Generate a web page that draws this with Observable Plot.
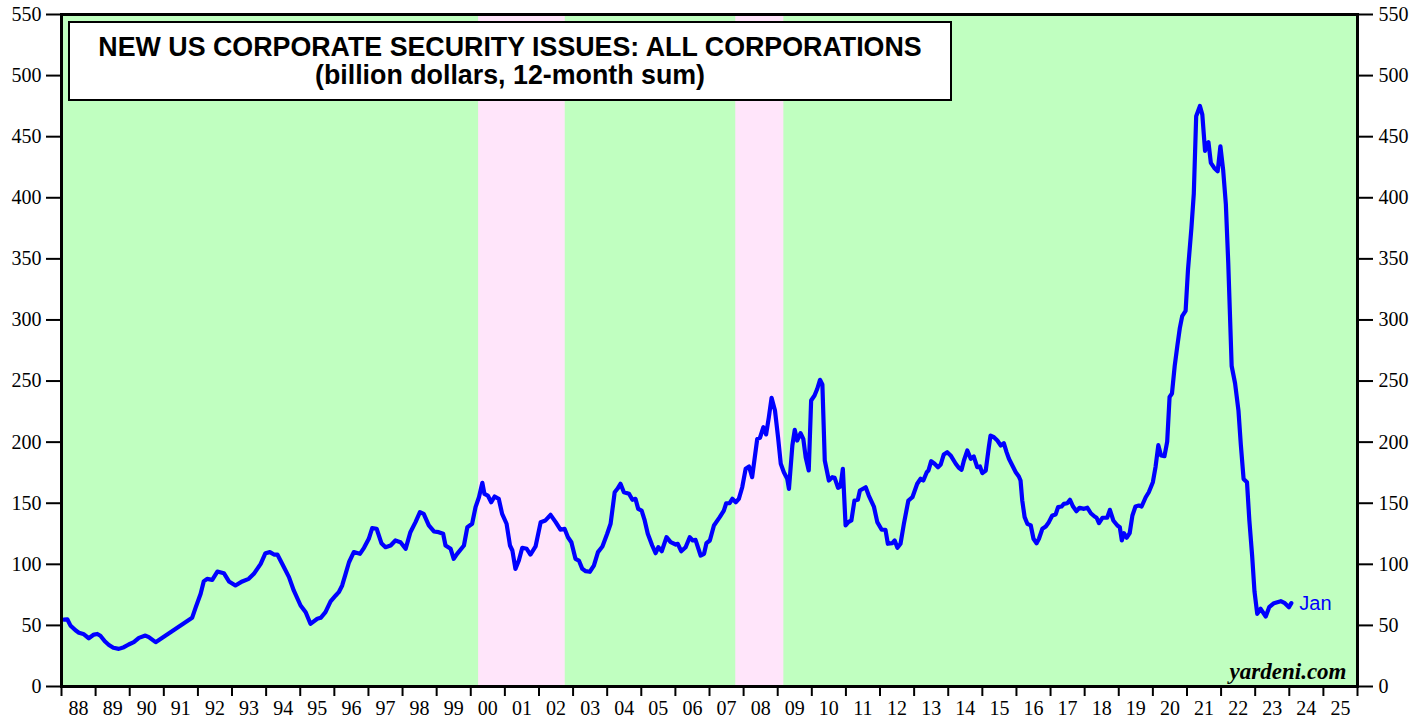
<!DOCTYPE html>
<html>
<head>
<meta charset="utf-8">
<script src="https://cdn.jsdelivr.net/npm/d3@7"></script>
<script src="https://cdn.jsdelivr.net/npm/@observablehq/plot@0.6"></script>
<style>
  html, body { margin: 0; padding: 0; background: white; }
  #wrap { position: relative; width: 1427px; height: 717px; }
  #title {
    position: absolute; left: 68px; top: 21px; width: 884px; height: 80px;
    box-sizing: border-box; border: 2px solid black; background: white;
    font-family: "Liberation Sans", Arial, sans-serif; font-weight: bold;
    font-size: 26.8px; line-height: 28px; text-align: center; padding-top: 10px;
    color: black;
  }
</style>
</head>
<body>
<div id="wrap">
  <div id="chart"></div>
  <div id="title">NEW US CORPORATE SECURITY ISSUES: ALL CORPORATIONS<br>(billion dollars, 12-month sum)</div>
</div>
<script>
// Time (decimal year) and value (billion dollars, 12-month sum)
const years = [
  1988.07,1988.17,1988.26,1988.41,1988.51,1988.64,1988.80,1988.95,1989.05,1989.14,
  1989.27,1989.39,1989.52,1989.68,1989.83,1989.97,1990.12,1990.27,1990.46,1990.56,
  1990.76,1991.83,1991.93,1992.08,1992.17,1992.27,1992.42,1992.57,1992.76,1992.91,
  1993.10,1993.30,1993.49,1993.64,1993.84,1993.98,1994.11,1994.23,1994.33,1994.47,
  1994.67,1994.81,1995.01,1995.16,1995.30,1995.50,1995.60,1995.74,1995.89,
  1996.04,1996.13,1996.23,1996.33,1996.43,1996.57,1996.75,1996.87,1997.01,1997.11,
  1997.24,1997.38,1997.50,1997.65,1997.79,1997.94,1998.09,1998.23,1998.38,1998.51,
  1998.62,1998.77,1998.92,1999.06,1999.19,1999.26,1999.41,1999.50,1999.60,1999.80,
  1999.90,2000.04,2000.14,2000.24,2000.34,2000.40,2000.50,2000.60,2000.70,2000.82,
  2000.92,2001.05,2001.15,2001.22,2001.31,2001.41,2001.51,2001.64,2001.75,2001.90,
  2002.05,2002.19,2002.34,2002.49,2002.63,2002.75,2002.85,2002.95,
  2003.07,2003.17,2003.27,2003.37,2003.49,2003.61,2003.73,2003.86,2004.00,2004.10,
  2004.22,2004.30,2004.39,2004.49,2004.64,2004.74,2004.83,2004.91,2005.01,2005.10,
  2005.19,2005.32,2005.42,2005.50,2005.60,2005.74,2005.86,2006.01,2006.07,2006.17,
  2006.30,2006.42,2006.51,2006.59,2006.74,2006.84,2006.91,2007.01,2007.13,2007.30,
  2007.42,2007.49,2007.59,2007.67,2007.77,2007.86,2007.96,2008.06,2008.16,2008.25,
  2008.40,2008.48,2008.58,2008.66,2008.74,2008.82,2008.92,2009.01,2009.09,2009.18,
  2009.28,2009.33,2009.43,2009.50,2009.57,2009.67,2009.75,2009.82,2009.91,2009.98,
  2010.08,2010.16,2010.24,2010.31,2010.38,2010.50,2010.60,2010.67,2010.77,2010.84,
  2010.91,2010.99,2011.07,2011.16,2011.25,2011.35,2011.41,2011.58,2011.67,2011.82,
  2011.92,2012.05,2012.16,2012.23,2012.36,2012.43,2012.51,2012.60,2012.70,2012.83,
  2012.95,2013.09,2013.19,2013.27,2013.37,2013.42,2013.50,2013.60,2013.70,2013.78,
  2013.87,2013.97,2014.07,2014.22,2014.31,2014.39,2014.46,2014.56,2014.66,2014.75,
  2014.85,2014.93,2015.00,2015.10,2015.19,2015.24,2015.34,2015.44,2015.54,2015.63,
  2015.71,2015.78,2015.88,2015.98,2016.07,2016.12,2016.17,2016.24,2016.32,2016.42,
  2016.50,2016.59,2016.66,2016.76,2016.86,2016.95,2017.05,2017.15,2017.22,2017.32,
  2017.39,2017.49,2017.57,2017.66,2017.76,2017.85,2017.98,2018.08,2018.18,2018.29,
  2018.35,2018.42,2018.52,2018.66,2018.74,2018.84,2018.96,2019.03,2019.09,2019.15,
  2019.23,2019.32,2019.40,2019.49,2019.59,2019.67,2019.79,2019.88,2020.00,2020.08,
  2020.16,2020.24,2020.34,2020.42,2020.49,2020.56,2020.64,2020.72,2020.79,2020.86,
  2020.96,2021.03,2021.13,2021.20,2021.27,2021.38,2021.45,2021.53,2021.58,2021.63,
  2021.70,2021.80,2021.90,2021.98,2022.06,2022.14,2022.21,2022.31,2022.41,2022.51,
  2022.58,2022.66,2022.76,2022.83,2022.91,2022.98,2023.06,2023.16,2023.31,2023.41,
  2023.55,2023.65,2023.75,2023.87,2023.99,2024.06
];
const values = [
  54.8,55,50,46,44,43,39.5,42.5,43,41.5,
  37,34,31.7,30.8,32.2,34.4,36.3,39.8,41.7,40.4,
  36.3,56.2,64.4,75.9,86,88.1,87.3,94.1,92.7,86,
  82.7,86,88.1,92.2,100.4,109.1,110,108,108,100.4,
  89.5,78.6,66.3,60.8,51.3,55.4,56.2,60.8,69.6,
  74.5,77.2,82.7,92.2,101.7,110,108.6,113.5,120.9,129.6,
  129.1,117.3,114,115.4,119.5,118.1,112.7,126.3,134.5,142.7,
  141.3,131.8,126.9,126.3,125,115.4,112.7,104.5,108.6,115.4,
  130.4,133.2,146.8,154.9,166.7,157.7,156.3,150.8,155.5,153.6,
  141.3,133.2,115.4,111.3,96.3,103.1,113.5,112.7,108,114.6,
  134.5,135.9,140.5,134.5,128.3,129.1,122.2,118.1,
  104.5,103.1,96.3,94.4,93.9,99,110,114.6,125,133.2,
  159,161.8,165.9,159,157.7,152.8,153.6,145.4,144,135.9,
  125,115.4,109.1,114,110.7,122.2,118.1,116.2,116.8,110.7,
  114,122.2,119.5,120,107.2,108.6,117.3,119.5,131.8,138.6,
  144,150,150,153.6,150.8,153.6,163.1,178.2,180,171.3,
  202.7,203.6,212.2,206.3,220.4,236.3,225.9,204,182.3,175.4,
  170,161.8,197.3,210,201.3,207.3,202.7,187.7,176.8,234.1,
  238.2,243.7,251,247.2,185,168.6,171.3,170.8,162.6,163.7,
  178.2,131.8,134.5,135.9,152.2,152.8,160.4,163.1,156.3,147.3,
  134.5,128.3,128.3,116.8,117.3,119.5,113.5,116.8,133.2,152.2,
  154.9,165.9,170,168.6,175.4,176.8,184.4,182.3,179.5,181.7,
  189.9,191.8,189.1,182.3,179,177.4,185,193.2,186.4,188.2,
  179.5,180.1,174.6,176.8,195.9,205.4,204,201.3,197.3,199.1,
  191.8,186.4,180.9,175.4,171.9,168.6,152.2,138.6,133.2,131.8,
  120.9,117.3,120.9,129.1,131,134.5,140,140.8,146.8,147.3,
  149.5,150,152.8,147.3,143.5,146.3,145.4,146.3,141.8,139.1,
  138.1,133.7,138.1,138.1,144.6,135.9,131.8,130.4,119.5,125.5,
  121.7,125.5,140,147.3,148.1,147.3,154.9,159,167.2,180,
  197.5,189.1,188.5,200.4,237,239.8,262.3,279.3,293.3,303.2,
  307.4,341.2,375.1,403.3,466.7,475.1,468.1,438.4,444.1,445.5,
  428.6,424.4,421.6,442.1,423,394.8,346.9,262.3,248.2,225.7,
  197.5,169.9,167.1,135.5,107.3,77.7,59.5,63.6,57.3,64.9,
  68.2,69,69.8,68.2,64.9,68.2
];
// S&P 500 bear markets (shaded)
const bearStart = [2000.23, 2007.77];
const bearEnd = [2002.77, 2009.18];
const yTicks = [0,50,100,150,200,250,300,350,400,450,500,550];
const yearTicks = d3.range(1988, 2027);
const yearLabels = d3.range(1988, 2026);
const lastLabel = "Jan";

const data = years.map((t, i) => ({t, v: values[i]}));
const bands = bearStart.map((s, i) => ({start: s, end: bearEnd[i]}));

const serif = "'Liberation Serif', 'Times New Roman', serif";
const sans = "'Liberation Sans', Arial, sans-serif";

const chart = Plot.plot({
  width: 1427,
  height: 717,
  marginLeft: 61,
  marginRight: 70,
  marginTop: 14,
  marginBottom: 31,
  x: {domain: [1988, 2026], label: null},
  y: {domain: [0, 550], label: null},
  style: {background: "white", overflow: "visible", color: "black"},
  marks: [
    Plot.frame({fill: "#c0ffc0"}),
    Plot.rect(bands, {x1: "start", x2: "end", fill: "#ffe5fa"}),
    Plot.line(data, {x: "t", y: "v", stroke: "#0000ff", strokeWidth: 4.2, strokeLinejoin: "round", strokeLinecap: "round"}),
    Plot.text([data[data.length - 1]], {x: "t", y: "v", text: () => lastLabel, dx: 8, textAnchor: "start", fill: "#0000ff", fontSize: 20, fontFamily: sans}),
    Plot.text(["yardeni.com"], {frameAnchor: "bottom-right", text: d => d, dx: -11, dy: -8, lineAnchor: "bottom", fontSize: 23, fontWeight: "bold", fontStyle: "italic", fontFamily: serif, fill: "black"}),
    Plot.frame({stroke: "black", strokeWidth: 3}),
    Plot.axisY(yTicks, {anchor: "left", tickSize: 15, tickPadding: 5, fontSize: 20, fontFamily: serif, strokeWidth: 2, label: null}),
    Plot.axisY(yTicks, {anchor: "right", tickSize: 15, tickPadding: 6, fontSize: 20, fontFamily: serif, strokeWidth: 2, label: null}),
    Plot.axisX(yearTicks, {anchor: "bottom", tickSize: 10, tickFormat: () => "", strokeWidth: 2, label: null}),
    Plot.axisX(yearLabels.map(y => y + 0.5), {anchor: "bottom", tickSize: 0, tickPadding: 14, tickFormat: d => String(Math.floor(d) % 100).padStart(2, "0"), fontSize: 20, fontFamily: serif, label: null})
  ]
});
document.getElementById("chart").appendChild(chart);
</script>
</body>
</html>
